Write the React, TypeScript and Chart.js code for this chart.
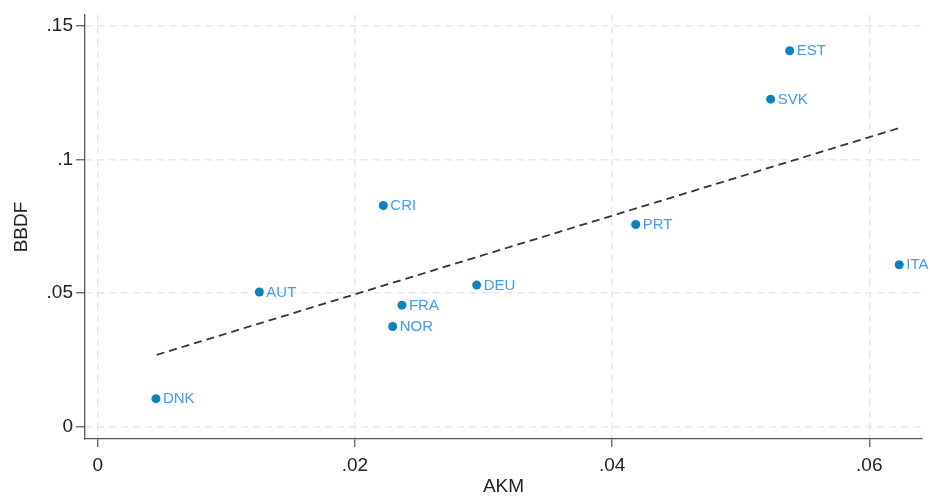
import React, { useEffect, useRef } from "react";
import { Chart, registerables } from "chart.js";

Chart.register(...registerables);

const countries = ["DNK", "AUT", "CRI", "FRA", "NOR", "DEU", "PRT", "SVK", "EST", "ITA"];
const akm = [0.00453, 0.01257, 0.02221, 0.02366, 0.02294, 0.02947, 0.04184, 0.05233, 0.05381, 0.06233];
const bbdf = [0.0105, 0.0504, 0.0828, 0.0455, 0.0375, 0.053, 0.0757, 0.1226, 0.1407, 0.0606];
const fitX = [0.00459, 0.06226];
const fitY = [0.0269, 0.1117];
const xTicks = [0, 0.02, 0.04, 0.06];
const yTicks = [0, 0.05, 0.1, 0.15];

const FONT = 'Arial, "Liberation Sans", sans-serif';

const fmt = (v: number) => {
  if (Math.abs(v) < 1e-12) return "0";
  const s = String(Math.round(v * 1000) / 1000);
  return s.replace(/^0\./, ".");
};

const labelPlugin = {
  id: "pointLabels",
  afterDatasetsDraw(chart: any) {
    const ctx = chart.ctx;
    const meta = chart.getDatasetMeta(0);
    ctx.save();
    ctx.font = `15px ${FONT}`;
    ctx.fillStyle = "#4499f7";
    ctx.textAlign = "left";
    ctx.textBaseline = "middle";
    meta.data.forEach((el: any, i: number) => {
      ctx.fillText(countries[i], el.x + 7, el.y + 0.5);
    });
    ctx.restore();
  },
};

const gridOpts = (tickLength: number) =>
  ({
    color: "#e6e6e6",
    lineWidth: 1.5,
    tickColor: "#555",
    tickLength,
    tickBorderDash: [],
    tickWidth: 1.2,
  } as any);

export default function App() {
  const ref = useRef<HTMLCanvasElement | null>(null);
  useEffect(() => {
    document.body.style.margin = "0";
    const canvas = ref.current!;
    const chart = new Chart(canvas, {
      type: "scatter",
      data: {
        datasets: [
          {
            label: "BBDF",
            data: akm.map((x, i) => ({ x, y: bbdf[i] })),
            backgroundColor: "#0b82ba",
            borderWidth: 0,
            pointRadius: 4.5,
            order: 2,
          } as any,
          {
            type: "line",
            label: "Fit",
            data: fitX.map((x, i) => ({ x, y: fitY[i] })),
            borderColor: "#333333",
            borderWidth: 1.8,
            borderDash: [8, 5],
            pointRadius: 0,
            fill: false,
            order: 1,
          } as any,
        ],
      },
      options: {
        animation: false,
        responsive: false,
        maintainAspectRatio: false,
        layout: { padding: { top: 15, right: 8, left: 0, bottom: 0 } },
        plugins: { legend: { display: false }, tooltip: { enabled: false } },
        scales: {
          x: {
            type: "linear",
            min: -0.000988,
            max: 0.0641,
            afterBuildTicks: (s: any) => {
              s.ticks = xTicks.map((v) => ({ value: v }));
            },
            afterFit: (s: any) => {
              s.height = 59;
            },
            ticks: {
              callback: (v: any) => fmt(Number(v)),
              font: { size: 19, family: FONT },
              color: "#222",
              padding: 7,
              maxRotation: 0,
              autoSkip: false,
            },
            grid: gridOpts(8),
            border: { display: true, color: "#555", width: 1.3, dash: [7, 5] } as any,
            title: {
              display: true,
              text: "AKM",
              font: { size: 19, family: FONT },
              color: "#222",
              padding: { top: 0, bottom: 0 },
            },
          },
          y: {
            type: "linear",
            min: -0.0046,
            max: 0.1541,
            afterBuildTicks: (s: any) => {
              s.ticks = yTicks.map((v) => ({ value: v }));
            },
            afterFit: (s: any) => {
              s.width = 85;
            },
            ticks: {
              callback: (v: any) => fmt(Number(v)),
              font: { size: 19, family: FONT },
              color: "#222",
              padding: 3,
              autoSkip: false,
            },
            grid: gridOpts(9),
            border: { display: true, color: "#555", width: 1.3, dash: [7, 5] } as any,
            title: {
              display: true,
              text: "BBDF",
              font: { size: 19, family: FONT },
              color: "#222",
              padding: { top: 10, bottom: 0 },
            },
          },
        },
      },
      plugins: [labelPlugin],
    });
    return () => chart.destroy();
  }, []);
  return (
    <div style={{ position: "absolute", left: 0, top: 0, width: 930, height: 498, background: "#fff" }}>
      <canvas ref={ref} width={930} height={498} style={{ width: 930, height: 498, display: "block" }} />
    </div>
  );
}
